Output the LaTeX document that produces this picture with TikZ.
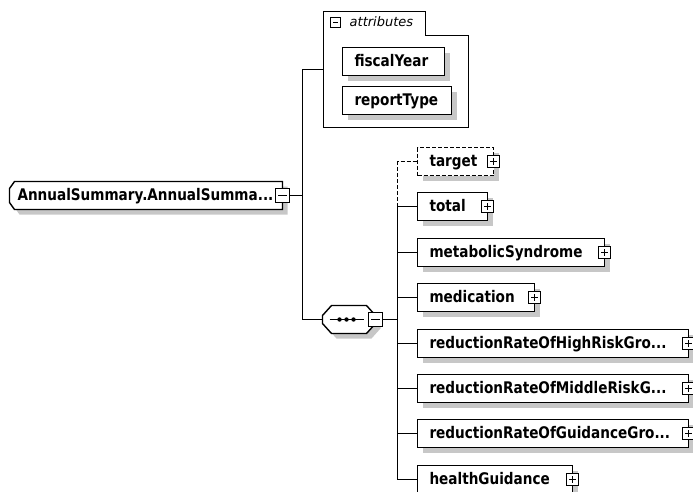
\documentclass[tikz,border=0pt]{standalone}
\usepackage{fontspec}
\newfontfamily\dejavu{DejaVu Sans}
\newfontfamily\dejavunarrow[FakeStretch=0.85]{DejaVu Sans}
\usetikzlibrary{calc,backgrounds}
\newcommand\elemtext{\dejavunarrow\bfseries\fontsize{16pt}{18pt}\selectfont}
\newcommand\attrtext{\dejavu\itshape\fontsize{13pt}{15pt}\selectfont}
\definecolor{shadowc}{gray}{0.78}
% gray drop shadow behind a rectangular node, 5px down and right
\newcommand\castshadow[1]{\fill[shadowc] ([shift={(5,5)}]#1.north west) rectangle ([shift={(5,5)}]#1.south east);}

\begin{document}
\begin{tikzpicture}[x=1pt,y=-1pt,line width=1.4pt,
  elem/.style={draw=black, fill=white, anchor=west, inner xsep=12pt, inner ysep=0pt, outer sep=0pt,
    line width=1.4pt, minimum height=28pt, text height=12pt, text depth=2pt, align=left, font=\elemtext},
  optional/.style={dash pattern=on 4pt off 2pt},
  btn/.style={draw=black, fill=white, line width=1pt, minimum size=12pt, inner sep=0pt, outer sep=0pt},
  plusbtn/.style={btn, path picture={\draw[line width=1pt]
      ([xshift=2.5pt]path picture bounding box.west) -- ([xshift=-2.5pt]path picture bounding box.east)
      ([yshift=-2.5pt]path picture bounding box.north) -- ([yshift=2.5pt]path picture bounding box.south);}},
  minusbtn/.style={btn, path picture={\draw[line width=1pt]
      ([xshift=2.5pt]path picture bounding box.west) -- ([xshift=-2.5pt]path picture bounding box.east);}},
  conn/.style={draw=black, line width=1.4pt},
  outline/.style={draw=black, line width=1.4pt},
]
\useasboundingbox (0,0) rectangle (693,491);

% ---- root element ----
\node[elem, draw=none, fill=none, inner xsep=8pt, text width=257pt] (root) at (9.5,195.5) {AnnualSummary.AnnualSumma...};
\node[minusbtn, minimum size=14pt] (rootbtn) at (root.east) {};

% ---- attribute group ----
\node[draw=none, anchor=north west, minimum width=145pt, minimum height=116pt, inner sep=0pt, outer sep=0pt] (attrs) at (323.5,11.5) {};
\draw[outline] (attrs.north west) -- ([shift={(102,0)}]attrs.north west) -- ([shift={(102,24)}]attrs.north west)
  -- ([shift={(0,24)}]attrs.north east) -- (attrs.south east) -- (attrs.south west) -- cycle;
\node[minusbtn, minimum size=10pt] (attrbtn) at (335.5,22.5) {};
\node[font=\attrtext, anchor=west, inner sep=0pt] (attrlabel) at (349,22) {attributes};
\node[elem, text width=78pt] (fiscal) at (342.5,61.5) {fiscalYear};
\node[elem, text width=85pt] (report) at (342.5,100.5) {reportType};

% ---- sequence compositor ----
\node[draw=none, minimum width=53pt, minimum height=28pt, anchor=west, inner sep=0pt, outer sep=0pt] (seq) at (322.5,319.5) {};
\draw[line width=1.4pt] ([xshift=7pt]seq.west) -- ([xshift=-12pt]seq.east);
\foreach \dx in {17,24,31} {\fill ([xshift=\dx pt]seq.west) circle (2.2pt);}
\node[minusbtn, minimum size=14pt] (seqbtn) at (seq.east) {};

% ---- child elements ----
\node[elem, optional, text width=52pt] (target) at (417.5,161.5) {target};
\node[elem, text width=46pt] (total) at (417.5,206.5) {total};
\node[elem, text width=163pt] (metabolic) at (417.5,252.5) {metabolicSyndrome};
\node[elem, text width=93pt] (medication) at (417.5,297.5) {medication};
\node[elem, text width=247pt] (highrisk) at (417.5,343.5) {reductionRateOfHighRiskGro...};
\node[elem, text width=247pt] (middlerisk) at (417.5,388.5) {reductionRateOfMiddleRiskG...};
\node[elem, text width=247pt] (guidance) at (417.5,433.5) {reductionRateOfGuidanceGro...};
\node[elem, text width=131pt] (health) at (417.5,479.5) {healthGuidance};
\foreach \c in {target,total,metabolic,medication,highrisk,middlerisk,guidance,health}
  {\node[plusbtn] (\c btn) at (\c.east) {};}

% ---- shadows and filled outlines underneath ----
\begin{pgfonlayer}{background}
  \fill[shadowc] ([shift={(10,5)}]root.north west) -- ([shift={(5,5)}]root.north east)
    -- ([shift={(5,5)}]root.south east) -- ([shift={(10,5)}]root.south west)
    -- ([shift={(5,-2)}]root.south west) -- ([shift={(5,12)}]root.north west) -- cycle;
  \draw[outline, fill=white] ([shift={(5,0)}]root.north west) -- (root.north east) -- (root.south east)
    -- ([shift={(5,0)}]root.south west) -- ([shift={(0,-7)}]root.south west) -- ([shift={(0,7)}]root.north west) -- cycle;
  \fill[shadowc] ([shift={(14,5)}]seq.north west) -- ([shift={(-4,5)}]seq.north east) -- ([shift={(5,15)}]seq.north east)
    -- ([shift={(5,-5)}]seq.south east) -- ([shift={(-4,5)}]seq.south east) -- ([shift={(14,5)}]seq.south west)
    -- ([shift={(5,-5)}]seq.south west) -- ([shift={(5,15)}]seq.north west) -- cycle;
  \draw[outline, fill=white] ([shift={(9,0)}]seq.north west) -- ([shift={(-9,0)}]seq.north east) -- ([shift={(0,10)}]seq.north east)
    -- ([shift={(0,-10)}]seq.south east) -- ([shift={(-9,0)}]seq.south east) -- ([shift={(9,0)}]seq.south west)
    -- ([shift={(0,-10)}]seq.south west) -- ([shift={(0,10)}]seq.north west) -- cycle;
  \foreach \c in {fiscal,report,target,total,metabolic,medication,highrisk,middlerisk,guidance,health}
    {\castshadow{\c}}
\end{pgfonlayer}

% ---- connectors ----
\coordinate (hub) at (302.5,195.5);
\coordinate (bus) at (397.5,319.5);
\draw[conn] (rootbtn.east) -- (hub);
\draw[conn] (attrs.west) -| (hub);
\draw[conn] (hub) |- (seq.west);
\draw[conn] (seqbtn.east) -- (bus);
\foreach \c in {total,metabolic,medication,highrisk,middlerisk,guidance,health}
  {\draw[conn] (bus) |- (\c.west);}
\draw[conn, optional] (bus |- total.west) |- (target.west);
\end{tikzpicture}
\end{document}
